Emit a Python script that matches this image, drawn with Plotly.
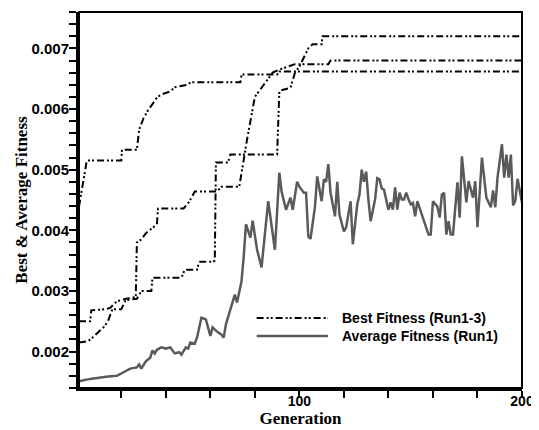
import plotly.graph_objects as go

# ---------------- data ----------------
run1_gen = [1, 3.5, 4.5, 20, 20.3, 27, 28, 30, 32, 34, 36, 38, 42, 44, 50, 51, 73.5, 74, 90, 91, 200]
run1_fit = [0.00439, 0.00495, 0.00515, 0.00515, 0.00533, 0.00533, 0.00566, 0.00585, 0.00598, 0.00608,
            0.00619, 0.00624, 0.00629, 0.00636, 0.00640, 0.00644, 0.00644, 0.00657, 0.00657, 0.00662, 0.00662]

run2_gen = [1, 6, 6.5, 13, 15, 18, 22, 26.5, 27, 29, 31, 34, 36, 36.5, 48, 50.5, 53, 63, 65, 73,
            75, 76.5, 78, 80, 84, 88, 91, 98, 113, 114, 200]
run2_fit = [0.00250, 0.00250, 0.00268, 0.00270, 0.00272, 0.00283, 0.00287, 0.00290, 0.00380, 0.00385,
            0.00395, 0.00405, 0.00410, 0.00436, 0.00436, 0.00447, 0.00464, 0.00464, 0.00472, 0.00472,
            0.00520, 0.00550, 0.00580, 0.00620, 0.00640, 0.00660, 0.00665, 0.00674, 0.00674, 0.00680, 0.00680]

run3_gen = [1, 5, 7, 10, 12, 14, 16, 20, 22, 27, 29, 33.5, 34, 47, 48.5, 54, 55, 61, 62, 62.5, 68, 69,
            90, 91, 96, 98, 100, 104, 106, 110, 110.3, 200]
run3_fit = [0.00215, 0.00217, 0.00223, 0.00233, 0.00240, 0.00250, 0.00270, 0.00270, 0.00285, 0.00287,
            0.00300, 0.00300, 0.00322, 0.00322, 0.00335, 0.00335, 0.00348, 0.00348, 0.00350, 0.00512,
            0.00512, 0.00525, 0.00525, 0.00630, 0.00635, 0.00660, 0.00670, 0.00700, 0.00707, 0.00707,
            0.00720, 0.00720]

avg_gen = [1, 6, 14, 18, 21, 24, 27, 28, 29, 31, 33, 34, 35, 36, 38, 40, 42, 43, 44, 46, 47, 49, 50, 51,
           53, 54, 56, 58, 60, 61, 63, 65, 66, 67, 69, 71, 72, 74, 75, 76, 78, 79, 81, 83, 86, 87, 89,
           91, 92, 94, 96, 97, 99, 100, 102, 103, 104, 105, 107, 108, 110, 111, 112, 113, 114, 116, 117,
           118, 120, 121, 123, 124, 126, 127, 128, 129, 130, 131, 132, 134, 135, 136, 137, 138, 140, 141,
           142, 143, 144, 145, 146, 147, 148, 149, 150, 151, 152, 153, 155, 156, 158, 159, 160, 162, 163,
           164, 165, 166, 167, 168, 169, 171, 172, 173, 175, 176, 178, 179, 180, 182, 184, 186, 187, 188,
           189, 191, 192, 193, 194, 195, 196, 197, 198, 200]
avg_fit = [0.00151, 0.00155, 0.00159, 0.00160, 0.00166, 0.00172, 0.00174, 0.00179, 0.00172, 0.00184,
           0.00190, 0.00202, 0.00197, 0.00203, 0.00207, 0.00205, 0.00207, 0.00202, 0.00197, 0.00199,
           0.00195, 0.00207, 0.00205, 0.00215, 0.00213, 0.00223, 0.00256, 0.00253, 0.00226, 0.00240,
           0.00233, 0.00228, 0.00223, 0.00245, 0.00269, 0.00294, 0.00281, 0.00316, 0.00357, 0.00410,
           0.00388, 0.00416, 0.00368, 0.00339, 0.00448, 0.00423, 0.00368, 0.00495, 0.00464, 0.00434,
           0.00454, 0.00434, 0.00480, 0.00472, 0.00462, 0.00462, 0.00390, 0.00386, 0.00439, 0.00489,
           0.00448, 0.00484, 0.00480, 0.00509, 0.00462, 0.00423, 0.00480, 0.00426, 0.00398, 0.00405,
           0.00448, 0.00377, 0.00443, 0.00459, 0.00500, 0.00480, 0.00497, 0.00451, 0.00415, 0.00451,
           0.00486, 0.00484, 0.00469, 0.00467, 0.00434, 0.00446, 0.00434, 0.00471, 0.00434, 0.00462,
           0.00451, 0.00451, 0.00462, 0.00451, 0.00443, 0.00445, 0.00423, 0.00448, 0.00426, 0.00415,
           0.00393, 0.00393, 0.00448, 0.00439, 0.00421, 0.00459, 0.00462, 0.00393, 0.00415, 0.00393,
           0.00393, 0.00479, 0.00421, 0.00522, 0.00446, 0.00481, 0.00454, 0.00481, 0.00405, 0.00520,
           0.00454, 0.00438, 0.00466, 0.00438, 0.00487, 0.00542, 0.00487, 0.00525, 0.00487, 0.00525,
           0.00441, 0.00449, 0.00485, 0.00446]

x_tickvals = [20, 40, 60, 80, 100, 120, 140, 160, 180, 200]
x_ticktext = ["", "", "", "", "100", "", "", "", "", "200"]
y_tickvals = [0.002, 0.003, 0.004, 0.005, 0.006, 0.007]
y_ticktext = ["0.002", "0.003", "0.004", "0.005", "0.006", "0.007"]

best_name = "Best Fitness (Run1-3)"
avg_name = "Average Fitness (Run1)"

# ---------------- figure ----------------
DASH = "7px,3px,2px,2px,2px,3px"
BEST_COLOR = "black"
AVG_COLOR = "#5a5a5a"

fig = go.Figure()
for i, (g, f) in enumerate([(run1_gen, run1_fit), (run2_gen, run2_fit), (run3_gen, run3_fit)]):
    fig.add_trace(go.Scatter(x=g, y=f, mode="lines", name=best_name, legendgroup="best",
                             showlegend=False,
                             line=dict(color=BEST_COLOR, width=2, dash=DASH)))
fig.add_trace(go.Scatter(x=avg_gen, y=avg_fit, mode="lines", name=avg_name, showlegend=False,
                         line=dict(color=AVG_COLOR, width=2.5)))

tick_font = dict(family="Liberation Sans, Arial", size=15, color="black", weight="bold")
title_font = dict(family="Liberation Serif, Times New Roman", size=17, color="black", weight="bold")
legend_font = dict(family="Liberation Sans, Arial", size=14, color="black", weight="bold")

# legend drawn in paper coordinates (long sample lines as in the reference)
leg_x0, leg_x1, leg_tx = 0.401, 0.562, 0.589
leg_rows = [(0.186, best_name, BEST_COLOR, 2, DASH), (0.138, avg_name, AVG_COLOR, 2.5, "solid")]
shapes = [dict(type="rect", xref="paper", yref="paper", x0=0, y0=0, x1=1, y1=1,
               line=dict(color="black", width=2), layer="above")]
annotations = []
for yy, txt, col, w, dsh in leg_rows:
    shapes.append(dict(type="line", xref="paper", yref="paper", x0=leg_x0, x1=leg_x1, y0=yy, y1=yy,
                       line=dict(color=col, width=w, dash=dsh)))
    annotations.append(dict(xref="paper", yref="paper", x=leg_tx, y=yy, xanchor="left", yanchor="middle",
                            text=txt, showarrow=False, font=legend_font))

# the page adds an 8px body margin, so the figure is 8px smaller than the window
fig.update_layout(
    width=531, height=422,
    margin=dict(l=71, r=17, t=4, b=42),
    paper_bgcolor="white", plot_bgcolor="white",
    showlegend=False,
    xaxis=dict(range=[1, 200], showgrid=False, zeroline=False, automargin=False,
               showline=True, linecolor="black", linewidth=3,
               ticks="outside", ticklen=7, tickwidth=1.5, tickcolor="black",
               ticklabelstandoff=-9,
               tickmode="array", tickvals=x_tickvals, ticktext=x_ticktext,
               tickfont=dict(family="Liberation Sans, Arial", size=14, color="black", weight="bold"),
               title=dict(text="Generation", font=title_font, standoff=0)),
    yaxis=dict(range=[0.0014, 0.0076], showgrid=False, zeroline=False, automargin=False,
               showline=True, linecolor="black", linewidth=3,
               ticks="outside", ticklen=7, tickwidth=1.5, tickcolor="black",
               ticklabelstandoff=-3,
               tickmode="array", tickvals=y_tickvals, ticktext=y_ticktext,
               minor=dict(dtick=0.0002, tick0=0.0014, ticks="outside", ticklen=7,
                          tickwidth=1.5, tickcolor="black", showgrid=False),
               tickfont=tick_font,
               title=dict(text="Best & Average Fitness", font=title_font, standoff=0)),
    shapes=shapes,
    annotations=annotations,
)

fig.write_html("out.html")
